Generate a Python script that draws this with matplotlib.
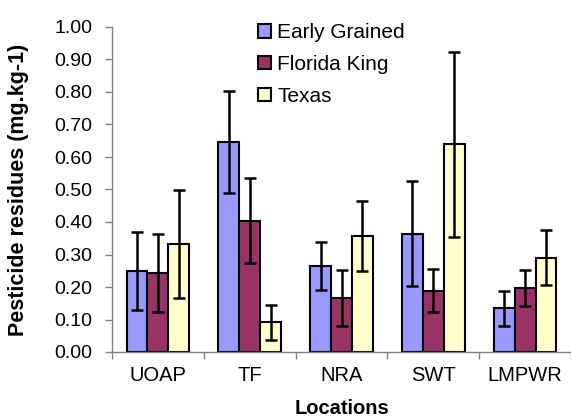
import matplotlib
matplotlib.use("Agg")
import matplotlib.pyplot as plt
import numpy as np

locations = ["UOAP", "TF", "NRA", "SWT", "LMPWR"]
series = ["Early Grained", "Florida King", "Texas"]
early_grained = [0.25, 0.647, 0.265, 0.364, 0.134]
florida_king = [0.242, 0.404, 0.165, 0.188, 0.197]
texas = [0.332, 0.091, 0.358, 0.639, 0.29]
err_early = [0.12, 0.157, 0.073, 0.161, 0.054]
err_florida = [0.12, 0.13, 0.086, 0.066, 0.054]
err_texas = [0.167, 0.053, 0.108, 0.284, 0.085]
colors = ["#9999FF", "#993366", "#FFFFCC"]
yticks = [0.0, 0.1, 0.2, 0.3, 0.4, 0.5, 0.6, 0.7, 0.8, 0.9, 1.0]

plt.rcParams['font.family'] = ['Liberation Sans', 'DejaVu Sans']

fig = plt.figure(figsize=(5.71, 4.17), dpi=100)
ax = fig.add_axes([112/571, 65/417, 1 - 112/571, 325/417])

x = np.arange(len(locations))
w = 0.228
vals = [early_grained, florida_king, texas]
errs = [err_early, err_florida, err_texas]
for i, (v, e, c, name) in enumerate(zip(vals, errs, colors, series)):
    ax.bar(x + (i - 1) * w, v, width=w, color=c, edgecolor='black', linewidth=1.5,
           label=name, zorder=2)
    ax.errorbar(x + (i - 1) * w, v, yerr=e, fmt='none', ecolor='black',
                elinewidth=1.8, capsize=4.5, capthick=1.8, zorder=3)

ax.set_xlim(-0.5, 4.5)
ax.set_ylim(0, 1.0)
ax.set_yticks(yticks)
ax.set_yticklabels([f"{t:.2f}" for t in yticks], fontsize=14)
ax.set_xticks(np.arange(-0.5, 4.6, 1.0))
ax.set_xticklabels([])
ax.set_xticks(x, minor=True)
ax.set_xticklabels(locations, minor=True, fontsize=14.5)
ax.tick_params(axis='x', which='minor', length=0, pad=10)
ax.tick_params(axis='both', which='major', color='#808080', length=5, width=1)
ax.tick_params(axis='y', pad=9)

for s in ['top', 'right']:
    ax.spines[s].set_visible(False)
for s in ['left', 'bottom']:
    ax.spines[s].set_color('#808080')
    ax.spines[s].set_linewidth(1)

ax.set_ylabel("Pesticide residues (mg.kg-1)", fontsize=15.5, fontweight='bold')
ax.yaxis.set_label_coords((29 - 112) / 459, 0.5)
ax.set_xlabel("Locations", fontsize=14.5, fontweight='bold')
ax.xaxis.set_label_coords(0.5, (352 - 399) / 325)

ax.legend(loc='upper left', bbox_to_anchor=((250 - 112) / 459, 1.037), frameon=False,
          fontsize=15, handlelength=0.6, handleheight=0.6, handletextpad=0.3,
          labelspacing=0.62, borderaxespad=0)

fig.savefig("out.png", dpi=100)
